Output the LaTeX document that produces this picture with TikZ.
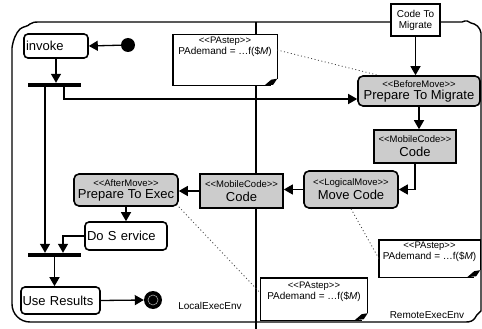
\documentclass[tikz,border=0pt]{standalone}
\usepackage{fontspec}
\setmainfont{Liberation Sans}
\usetikzlibrary{arrows.meta,calc}

% stereotype: << and >> kept as plain angle brackets
\newcommand\stereotxt[1]{{\fontsize{9.5}{10}\selectfont <{}<#1>{}>}}
\newcommand\actlbl[1]{{\fontsize{13}{14}\selectfont #1}}
\newcommand\demand{PAdemand = …f(\$\textit{M})}

\tikzset{
  box/.style={draw, line width=1.6pt, inner sep=0pt, align=center},
  actgray/.style={box, fill=gray!40, rounded corners=5pt},
  codebox/.style={box, fill=gray!40},
  actwhite/.style={box, fill=white, rounded corners=4pt},
  notebg/.style={fill=white, inner sep=0pt},
  notetxt/.style={inner sep=0pt, align=center, anchor=north, font=\fontsize{10}{12}\selectfont},
  syncbar/.style={fill=black, inner sep=0pt, minimum width=53pt, minimum height=4pt},
  arr/.style={line width=1.3pt, -{Triangle[length=9pt,width=10pt]}},
  link/.style={line width=0.8pt, gray!50!black, dash pattern=on 1pt off 2.5pt},
  frame/.style={line width=1.4pt},
  envlbl/.style={font=\fontsize{10}{12}\selectfont, inner sep=0pt},
}

% outline of a note with a curled bottom-right corner
\newcommand\noteoutline[1]{%
  \draw[line width=1.4pt] (#1.south east) ++(0,7pt) -- (#1.north east) -- (#1.north west)
    -- (#1.south west) -- ([xshift=-6pt]#1.south east);
  \fill ([xshift=-13pt]#1.south east) -- ([xshift=-6pt,yshift=6pt]#1.south east)
    -- ([yshift=7pt]#1.south east) -- ([xshift=-4pt,yshift=1pt]#1.south east) -- cycle;}

\begin{document}
\begin{tikzpicture}[x=1pt,y=-1pt]
\useasboundingbox (0,0) rectangle (482,329);

% swimlane frame and divider
\draw[frame] (12,48) .. controls (13,40) and (16,33) .. (20,29)
  .. controls (24,26) and (27,27) .. (30,24) .. controls (33,22) and (35,22) .. (38,22)
  -- (462,22) .. controls (466,20) and (469,21) .. (471,23)
  .. controls (476,24) and (480,27) .. (481,33) -- (481,311)
  .. controls (479,313) and (477,314) .. (475,318)
  .. controls (473,321) and (470,322) .. (466,322)
  -- (30,322) .. controls (20,322) and (12,314) .. (12,304) -- cycle;
\draw[frame] (256,22) -- (256,329);

\node[envlbl] (local) at (210,306) {LocalExecEnv};
\node[envlbl] (remote) at (427,315) {RemoteExecEnv};

% notes
\node[notebg, minimum width=104pt, minimum height=51pt] (note1) at (225,60) {};
\node[notetxt] (note1txt) at ([yshift=-2pt]note1.north) {\stereotxt{PAstep}\\[-1pt]\demand};
\noteoutline{note1}
\node[notebg, minimum width=101pt, minimum height=37pt] (note2) at (429.5,258.5) {};
\node[notetxt] (note2txt) at ([yshift=-2pt]note2.north) {\stereotxt{PAstep}\\[-1pt]\demand};
\noteoutline{note2}
\node[notebg, minimum width=107pt, minimum height=42pt] (note3) at (314,299) {};
\node[notetxt] (note3txt) at ([yshift=-4pt]note3.north) {\stereotxt{PAstep}\\[-1pt]\demand};
\noteoutline{note3}

% activity nodes
\node[box, fill=white, minimum width=49pt, minimum height=32pt, font=\fontsize{10}{11}\selectfont]
  (ctm) at (415.5,20) {Code To\\Migrate};
\node[circle, fill=black, inner sep=0pt, minimum size=14pt] (start) at (128,45) {};
\node[actwhite, minimum width=64pt, minimum height=24pt, text width=60pt, align=left,
  font=\fontsize{13}{14}\selectfont] (invoke) at (56,46) {invoke};
\node[syncbar] (fork) at (54.5,85) {};
\node[actgray, minimum width=122pt, minimum height=30pt] (prepmig) at (419,91)
  {\stereotxt{BeforeMove}\\[0pt]\actlbl{Prepare To Migrate}};
\node[codebox, minimum width=82pt, minimum height=33pt] (code2) at (415,146.5)
  {\stereotxt{MobileCode}\\[2pt]\actlbl{Code}};
\node[actgray, minimum width=94pt, minimum height=37pt] (movecode) at (351,189.5)
  {\stereotxt{LogicalMove}\\[2pt]\actlbl{Move Code}};
\node[codebox, minimum width=83pt, minimum height=34pt] (code1) at (241.5,191)
  {\stereotxt{MobileCode}\\[2pt]\actlbl{Code}};
\node[actgray, minimum width=104pt, minimum height=32pt] (prepexec) at (126,190)
  {\stereotxt{AfterMove}\\[0pt]\actlbl{Prepare To Exec}};
\node[actwhite, minimum width=82pt, minimum height=28pt, text width=78pt, align=left,
  font=\fontsize{13}{14}\selectfont] (doservice) at (126,236) {Do S ervice};
\node[syncbar] (join) at (54.5,255) {};
\node[actwhite, minimum width=79pt, minimum height=27pt, text width=76pt, align=left,
  font=\fontsize{13}{14}\selectfont] (useres) at (60.5,300.5) {Use Results};
\node[circle, fill=black, inner sep=0pt, minimum size=18pt] (final) at (153,300) {};
\draw[gray!70, line width=0.6pt] (final) circle (5pt);

% control flow
\draw[arr] (start) -- (invoke.east);
\draw[arr] (invoke.south) -- (invoke.south |- fork.north);
\draw[arr] ([xshift=-9.5pt]fork.south) -- ([xshift=-9.5pt]join.north);
\draw[arr] ([xshift=9.5pt]fork.south) |- ([yshift=-8pt]prepmig.west);
\draw[arr] (ctm.south) -- (ctm.south |- prepmig.north);
\draw[arr] (prepmig.south) -- (prepmig.south |- code2.north);
\draw[arr] (code2.south) |- (movecode.east);
\draw[arr] (movecode.west) -- (movecode.west -| code1.east);
\draw[arr] (code1.west) -- (code1.west -| prepexec.east);
\draw[arr] (prepexec.south) -- (prepexec.south |- doservice.north);
\draw[arr] (doservice.west) -| ([xshift=8.5pt]join.north);
\draw[arr] (join.south) -- (join.south |- useres.north);
\draw[arr] (useres.east) -- (final.west);

% note attachments
\draw[link] ([yshift=10pt]note1.east) -- ([xshift=-41pt]prepmig.north);
\draw[link] (movecode.south) -- (note2.west);
\draw[link] (prepexec.south east) -- ([yshift=6pt]note3.west);
\end{tikzpicture}
\end{document}
